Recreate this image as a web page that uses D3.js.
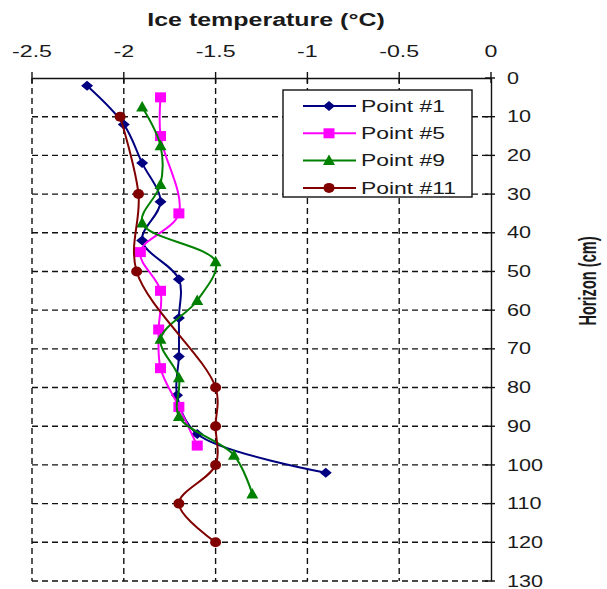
<!DOCTYPE html>
<html>
<head>
  <meta charset="utf-8" />
  <title>Ice temperature profiles</title>
  <script src="https://d3js.org/d3.v7.min.js"></script>
</head>
<style>
  body { margin: 0; background: #fff; }
  svg { display: block; font-family: Arial, "Liberation Sans", sans-serif; }
</style>
<body>
<svg class="main" width="607" height="589"></svg>
<script>

// depth (cm) / temperature (°C) per sampling point
const p1Depth = [2, 12, 22, 32, 42, 52, 62, 72, 82, 92, 102]
const p1Temp  = [-2.2, -2.0, -1.9, -1.8, -1.9, -1.7, -1.7, -1.7, -1.71, -1.6, -0.9]

const p5Depth = [5, 15, 35, 45, 55, 65, 75, 85, 95]
const p5Temp  = [-1.8, -1.8, -1.7, -1.91, -1.8, -1.81, -1.8, -1.7, -1.6]

const p9Depth = [7.5, 17.5, 27.5, 37.5, 47.5, 57.5, 67.5, 77.5, 87.5, 97.5, 107.5]
const p9Temp  = [-1.9, -1.8, -1.8, -1.9, -1.5, -1.6, -1.8, -1.7, -1.7, -1.4, -1.3]

const p11Depth = [10, 30, 50, 80, 90, 100, 110, 120]
const p11Temp  = [-2.02, -1.92, -1.93, -1.5, -1.5, -1.5, -1.7, -1.5]

const seriesNames = ["Point #1", "Point #5", "Point #9", "Point #11"]
const seriesColors = ["#000080", "#ff00ff", "#008000", "#800000"]
const seriesShapes = ["diamond", "square", "triangle", "circle"]

const xTicks = [-2.5, -2, -1.5, -1, -0.5, 0]
const yTicks = d3.range(0, 131, 10)

const series = [
  { depth: p1Depth, temp: p1Temp },
  { depth: p5Depth, temp: p5Temp },
  { depth: p9Depth, temp: p9Temp },
  { depth: p11Depth, temp: p11Temp }
].map((s, i) => ({
  name: seriesNames[i], color: seriesColors[i], shape: seriesShapes[i],
  values: s.depth.map((d, j) => ({ depth: d, temp: s.temp[j] }))
}))

const x = d3.scaleLinear().domain([-2.5, 0]).range([32, 491])
const y = d3.scaleLinear().domain([0, 130]).range([78, 581])

const svg = d3.select("svg")

// text in the source image is stretched horizontally
function label(g, txt, px, py, opts) {
  return g.append("text")
    .attr("transform", `translate(${px},${py}) scale(${opts.sx || 1.4},1)` + (opts.rot ? ` rotate(${opts.rot})` : ""))
    .attr("text-anchor", opts.anchor || "start")
    .attr("dy", opts.dy || null)
    .style("font-size", opts.size + "px")
    .style("font-weight", opts.bold ? "bold" : "normal")
    .style("fill", "#1a1a1a")
    .text(txt)
}

// grid
const grid = svg.append("g")
  .attr("stroke", "#111").attr("stroke-width", 1.4).attr("stroke-dasharray", "6,4")
grid.selectAll("line.v").data(xTicks.slice(0, -1)).enter().append("line")
  .attr("x1", d => x(d)).attr("x2", d => x(d))
  .attr("y1", y(0)).attr("y2", y(130))
grid.selectAll("line.h").data(yTicks.slice(1)).enter().append("line")
  .attr("x1", x(-2.5)).attr("x2", x(0))
  .attr("y1", d => y(d)).attr("y2", d => y(d))

// top axis
svg.append("g")
  .attr("transform", `translate(0,${y(0)})`)
  .call(d3.axisTop(x).tickValues(xTicks).tickSize(0).tickFormat(""))
  .call(g => g.select(".domain").attr("stroke", "#111").attr("stroke-width", 1.4))
svg.append("g").selectAll("line").data(xTicks).enter().append("line")
  .attr("x1", d => x(d)).attr("x2", d => x(d))
  .attr("y1", y(0) - 6).attr("y2", y(0) + 5)
  .attr("stroke", "#111").attr("stroke-width", 1.4)
xTicks.forEach(t => label(svg, String(t), x(t), 57, { size: 16, anchor: "middle", sx: 1.45 }))

// right axis
svg.append("g")
  .attr("transform", `translate(${x(0)},0)`)
  .call(d3.axisRight(y).tickValues(yTicks).tickSize(0).tickFormat(""))
  .call(g => g.select(".domain").attr("stroke", "#111").attr("stroke-width", 1.4))
svg.append("g").selectAll("line").data(yTicks).enter().append("line")
  .attr("x1", x(0) - 6).attr("x2", x(0) + 4)
  .attr("y1", d => y(d)).attr("y2", d => y(d))
  .attr("stroke", "#111").attr("stroke-width", 1.4)
yTicks.forEach(t => label(svg, String(t), 507, y(t), { size: 16, dy: "0.35em", sx: 1.35 }))

// titles
label(svg, "Ice temperature (°C)", 266, 26, { size: 18.5, bold: true, anchor: "middle", sx: 1.35 })
label(svg, "Horizon (cm)", 588, 281, { size: 14.6, bold: true, anchor: "middle", rot: -90, dy: "0.35em", sx: 1.6 })

// markers
function marker(g, shape, color) {
  if (shape === "diamond") g.append("path").attr("d", "M-6,0L0,-5L6,0L0,5Z")
  else if (shape === "square") g.append("rect").attr("x", -5.5).attr("y", -5).attr("width", 11).attr("height", 10)
  else if (shape === "triangle") g.append("path").attr("d", "M0,-6L6,4.5L-6,4.5Z")
  else g.append("ellipse").attr("rx", 5.5).attr("ry", 5)
  g.selectAll("*").attr("fill", color)
}

const line = d3.line()
  .x(d => x(d.temp))
  .y(d => y(d.depth))
  .curve(d3.curveCatmullRom.alpha(0.5))

const sg = svg.selectAll("g.series").data(series).enter().append("g").attr("class", "series")
sg.append("path")
  .attr("d", d => line(d.values))
  .attr("fill", "none")
  .attr("stroke", d => d.color)
  .attr("stroke-width", 2)
sg.each(function(s) {
  d3.select(this).selectAll("g.m").data(s.values).enter().append("g")
    .attr("transform", d => `translate(${x(d.temp)},${y(d.depth)})`)
    .each(function() { marker(d3.select(this), s.shape, s.color) })
})

// legend
const leg = svg.append("g")
leg.append("rect").attr("x", 283).attr("y", 90).attr("width", 189).attr("height", 107)
  .attr("fill", "#fff").attr("stroke", "#111").attr("stroke-width", 1.4)
series.forEach((s, i) => {
  const ly = 106 + i * 27.3
  leg.append("line").attr("x1", 303).attr("x2", 356).attr("y1", ly).attr("y2", ly)
    .attr("stroke", s.color).attr("stroke-width", 2)
  marker(leg.append("g").attr("transform", `translate(329,${ly})`), s.shape, s.color)
  label(leg, s.name, 361, ly, { size: 16, dy: "0.35em", sx: 1.43 })
})

</script>
</body>
</html>
